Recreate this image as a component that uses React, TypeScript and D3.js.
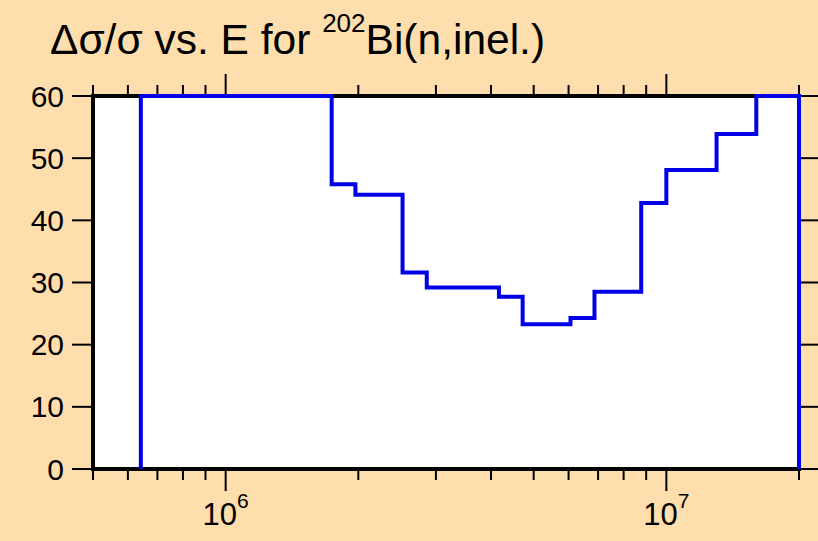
import React from "react";
import * as d3 from "d3";

const edges = [6.42e5, 1.74e6, 1.97e6, 2.52e6, 2.86e6, 4.17e6, 4.72e6, 6.06e6, 6.87e6, 8.77e6, 1.0e7, 1.3e7, 1.6e7, 2.0e7];
const values = [60, 45.8, 44.1, 31.6, 29.2, 27.7, 23.3, 24.3, 28.5, 42.8, 48.1, 53.9, 60];
const yTicks = [0, 10, 20, 30, 40, 50, 60];
const xMajor = [1e6, 1e7];
const xMajorExp = ["6", "7"];

const W = 818, H = 541;
const L = 93, R = 799, T = 96, B = 469;
const FONT = "'Liberation Sans', Arial, sans-serif";

export default function App() {
  const x = d3.scaleLog().domain([5e5, 2e7]).range([L, R]);
  const y = d3.scaleLinear().domain([0, 60]).range([B, T]);

  const pts: [number, number][] = [[edges[0], 0]];
  values.forEach((v, i) => {
    pts.push([edges[i], v]);
    pts.push([edges[i + 1], v]);
  });
  pts.push([edges[edges.length - 1], 0]);
  const line = d3.line<[number, number]>().x(d => x(d[0])).y(d => y(d[1]));

  const minor: number[] = [];
  for (let e = 5; e <= 7; e++) {
    for (let m = 1; m <= 9; m++) {
      const v = m * Math.pow(10, e);
      if (v >= 5e5 && v <= 2e7 && !xMajor.includes(v)) minor.push(v);
    }
  }

  return (
    <svg width={W} height={H} style={{ position: "absolute", left: 0, top: 0 }} fontFamily={FONT}>
      <rect x={0} y={0} width={W} height={H} fill="#FFDEAD" />
      <rect x={L} y={T} width={R - L} height={B - T} fill="#FFFFFF" />
      <text x={50} y={54} fontSize={42.5} fill="#000">
        Δσ/σ vs. E for <tspan fontSize={26} dy={-22}>202</tspan><tspan dy={22}>Bi(n,inel.)</tspan>
      </text>
      {minor.map((v, i) => (
        <g key={"m" + i} stroke="#000" strokeWidth={2}>
          <line x1={x(v)} x2={x(v)} y1={B} y2={B + 11} />
          <line x1={x(v)} x2={x(v)} y1={T} y2={T - 11} />
        </g>
      ))}
      {xMajor.map((v, i) => (
        <g key={"M" + i}>
          <line x1={x(v)} x2={x(v)} y1={B} y2={B + 22} stroke="#000" strokeWidth={2} />
          <line x1={x(v)} x2={x(v)} y1={T} y2={T - 22} stroke="#000" strokeWidth={2} />
          <text x={x(v)} y={525} fontSize={31} textAnchor="middle" fill="#000">
            10<tspan fontSize={21} dy={-17}>{xMajorExp[i]}</tspan>
          </text>
        </g>
      ))}
      {yTicks.map((v, i) => (
        <g key={"y" + i}>
          <line x1={L} x2={L - 21} y1={y(v)} y2={y(v)} stroke="#000" strokeWidth={2} />
          <line x1={R} x2={R + 21} y1={y(v)} y2={y(v)} stroke="#000" strokeWidth={2} />
          <text x={64} y={y(v) + 10.5} fontSize={30} textAnchor="end" fill="#000">{v}</text>
        </g>
      ))}
      <rect x={L} y={T} width={R - L} height={B - T} fill="none" stroke="#000" strokeWidth={4} />
      <path d={line(pts) || ""} fill="none" stroke="#0000E6" strokeWidth={4} />
    </svg>
  );
}
